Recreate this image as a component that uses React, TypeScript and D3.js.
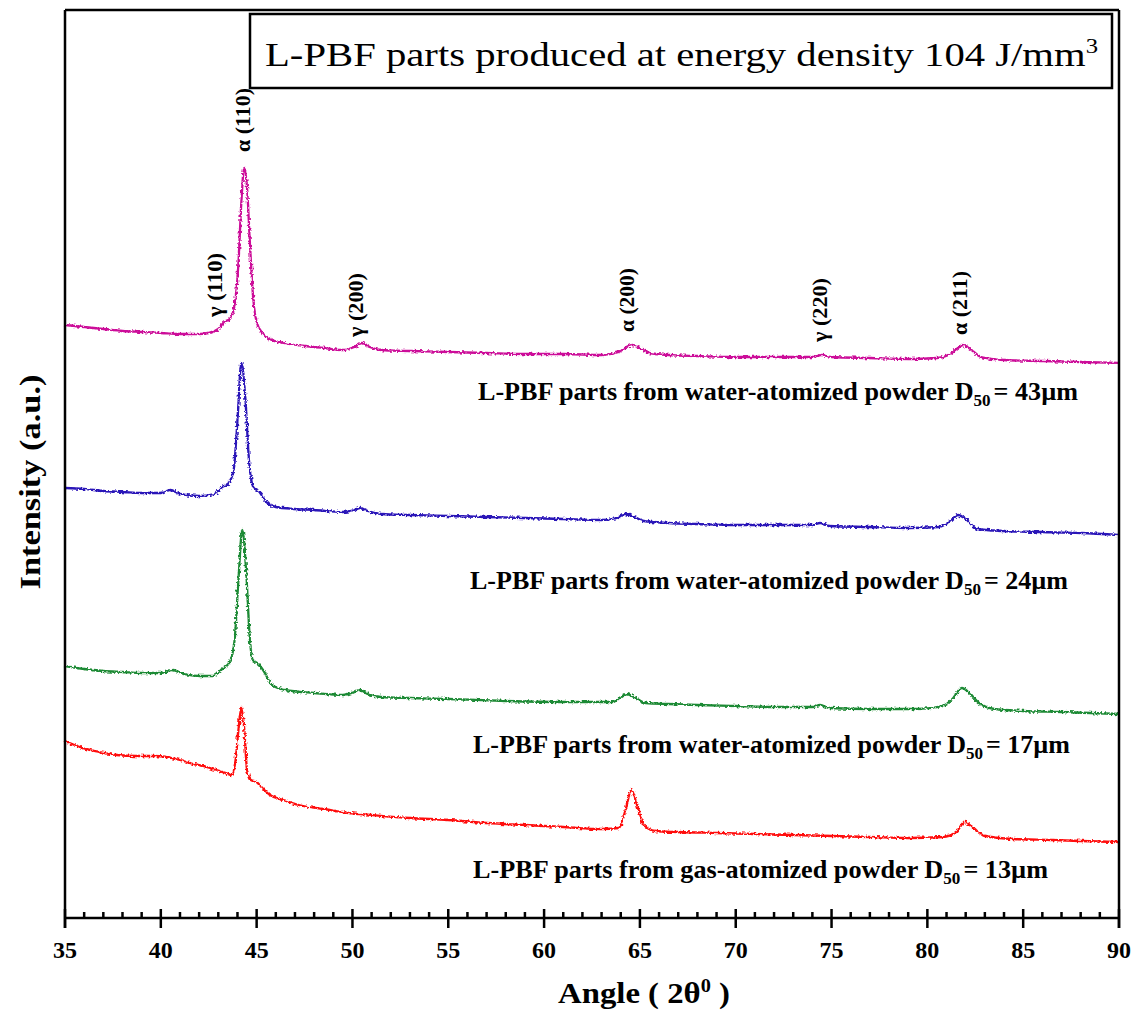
import React from "react";
import * as d3 from "d3";

// 2θ (deg), intensity (a.u.)
const wa43: [number, number][] = [
  [35, 593], [36, 591], [37, 589], [38, 587], [39, 586], [40, 585], [41, 584], [42, 584],
  [42.5, 585], [43.0, 589], [43.3, 596], [43.6, 599], [43.85, 613], [44.05, 655], [44.2, 715],
  [44.35, 750], [44.5, 730], [44.65, 675], [44.8, 625], [45.0, 596], [45.3, 585], [45.8, 578],
  [46.4, 575], [47.5, 572], [48.5, 570], [49.5, 568], [50.1, 571], [50.5, 575], [50.9, 571],
  [51.5, 568], [53, 567], [55, 566], [57, 565], [59, 564], [61, 564], [63, 563], [63.9, 566],
  [64.3, 571], [64.6, 573], [65.0, 570], [65.5, 565], [66.5, 563], [68, 562], [70, 561],
  [72, 561], [74, 561], [74.5, 563], [75, 561], [77, 560], [79, 559], [80.5, 560], [81.2, 564],
  [81.6, 570], [81.85, 573], [82.3, 568], [82.8, 561], [84, 558], [86, 557], [88, 556], [90, 555],
];

const wa24: [number, number][] = [
  [35, 430], [36, 429], [37, 427], [38, 426], [39, 425], [40, 425], [40.5, 428], [41, 424],
  [42, 422], [42.8, 424], [43.2, 431], [43.5, 434], [43.8, 448], [44.0, 498], [44.2, 555],
  [44.4, 523], [44.6, 458], [44.85, 430], [45.1, 427], [45.5, 416], [46, 411], [47, 409],
  [48, 408], [49.5, 406], [50.1, 408], [50.4, 410], [50.8, 407], [51.5, 404], [53, 403],
  [55, 402], [57, 401], [59, 400], [61, 399], [63, 398], [63.8, 400], [64.2, 404], [64.6, 402],
  [65.2, 397], [66.5, 395], [68, 394], [70, 393], [72, 393], [74, 393], [74.4, 395], [74.9, 392],
  [77, 391], [79, 390], [80.6, 391], [81.2, 397], [81.6, 403], [82.0, 399], [82.6, 389],
  [84, 387], [86, 386], [88, 385], [90, 383],
];

const wa17: [number, number][] = [
  [35, 252], [36, 249], [37, 247], [38, 246], [39, 245], [40, 245], [40.6, 248], [41.2, 244],
  [42, 242], [42.7, 242], [43.2, 249], [43.6, 256], [43.85, 278], [44.05, 338], [44.25, 388],
  [44.45, 348], [44.65, 278], [44.8, 258], [45.1, 254], [45.4, 246], [45.8, 233], [46.5, 228],
  [48, 225], [49.5, 223], [50.1, 226], [50.4, 228], [50.8, 224], [51.5, 221], [53, 220],
  [55, 219], [58, 217], [61, 216], [63.6, 216], [64.0, 221], [64.3, 224], [64.7, 221],
  [65.3, 215], [66.5, 214], [68, 213], [70, 212], [72, 211], [74, 211], [74.4, 213], [74.9, 210],
  [77, 209], [79.5, 209], [80.8, 212], [81.3, 219], [81.8, 230], [82.2, 225], [82.7, 215],
  [83.5, 209], [85, 207], [87, 206], [90, 204],
];

const ga13: [number, number][] = [
  [35, 177], [35.9, 170], [36.8, 166], [37.7, 163], [38.7, 162], [39.6, 162], [40.3, 161],
  [41, 158], [41.5, 155], [42.2, 152], [42.9, 148], [43.4, 145], [43.7, 143], [43.9, 158],
  [44.05, 188], [44.2, 210], [44.35, 190], [44.5, 148], [44.7, 138], [45.0, 136], [45.3, 130],
  [45.7, 123], [46.4, 118], [47.2, 113], [48.5, 109], [49.8, 105], [51, 103], [53, 100],
  [55, 98], [57, 95], [59, 93], [61, 91], [63, 89], [63.9, 90], [64.25, 108], [64.55, 128],
  [64.85, 113], [65.2, 93], [65.8, 87], [67, 86], [69, 85], [71, 84], [73, 83], [75, 82],
  [77, 81], [79, 80], [80.8, 81], [81.5, 86], [81.95, 96], [82.4, 90], [83, 82], [84.5, 79],
  [86.5, 78], [88, 77], [90, 76],
];

const seriesData = [wa43, wa24, wa17, ga13];
const seriesColors = ["#cc1199", "#2a14b8", "#1f8a35", "#ff1010"];
const seriesNames = ["water-atomized", "water-atomized", "water-atomized", "gas-atomized"];
const seriesD50 = ["43", "24", "17", "13"];

const peakNames = ["γ (110)", "α (110)", "γ (200)", "α (200)", "γ (220)", "α (211)"];
const peakAngles = [42.9, 44.35, 50.25, 64.4, 74.45, 81.75];

const xMajor = d3.range(35, 91, 5);
const xMinor = d3.range(35, 91, 1).filter((v) => v % 5 !== 0);

export default function App() {
  const width = 1145;
  const height = 1013;
  const left = 65;
  const right = 1119;
  const top = 10;
  const bottom = 918;

  const x = d3.scaleLinear().domain([35, 90]).range([left, right]);
  const y = d3.scaleLinear().domain([0, 908]).range([bottom, top]);

  const line = d3
    .line<[number, number]>()
    .x((d) => x(d[0]))
    .y((d) => y(d[1]))
    .curve(d3.curveMonotoneX);

  const serif = "Liberation Serif";

  // series label layout (left x, baseline y)
  const labelPos = [
    [478, 400],
    [470, 589],
    [473, 753],
    [473, 878],
  ];
  const labelLen = [600, 598, 597, 575];

  // peak label bottoms
  const peakBottoms = [317, 152, 337, 332, 342, 335];

  return (
    <svg
      width={width}
      height={height}
      viewBox={`0 0 ${width} ${height}`}
      style={{ position: "absolute", left: 0, top: 0, background: "#fff", fontFamily: "'Liberation Serif', serif" }}
    >
      <defs>
        <filter id="noise" filterUnits="userSpaceOnUse" x="0" y="0" width={width} height={height}>
          <feTurbulence type="fractalNoise" baseFrequency="0.4" numOctaves="2" seed="5" result="t" />
          <feDisplacementMap in="SourceGraphic" in2="t" scale="4" xChannelSelector="R" yChannelSelector="G" />
        </filter>
      </defs>

      {/* curves */}
      <g filter="url(#noise)">
        {seriesData.map((s, i) => (
          <path key={i} d={line(s) ?? ""} fill="none" stroke={seriesColors[i]} strokeWidth={2.3} />
        ))}
      </g>

      {/* frame */}
      <g stroke="#000" strokeWidth={2.5} fill="none">
        <line x1={left} x2={right} y1={top} y2={top} />
        <line x1={left} x2={left} y1={top} y2={bottom + 10} />
        <line x1={right} x2={right} y1={top} y2={bottom + 10} />
        <line x1={left} x2={right} y1={bottom} y2={bottom} />
        {xMajor.map((v) => (
          <line key={v} x1={x(v)} x2={x(v)} y1={bottom - 9} y2={bottom + 10} />
        ))}
        {xMinor.map((v) => (
          <line key={v} x1={x(v)} x2={x(v)} y1={bottom - 6} y2={bottom} />
        ))}
      </g>

      {/* tick labels */}
      <g fontFamily={serif} fontWeight="bold" fontSize={24} textAnchor="middle">
        {xMajor.map((v) => (
          <text key={v} x={x(v)} y={958}>
            {v}
          </text>
        ))}
      </g>

      {/* axis titles */}
      <text
        x={644}
        y={1003}
        fontFamily={serif}
        fontWeight="bold"
        fontSize={29}
        textAnchor="middle"
        textLength={172}
        lengthAdjust="spacingAndGlyphs"
      >
        Angle ( 2θ
        <tspan fontSize={18} dy={-11}>0</tspan>
        <tspan dy={11}> )</tspan>
      </text>
      <text
        transform="translate(40,482) rotate(-90)"
        fontFamily={serif}
        fontWeight="bold"
        fontSize={30}
        textAnchor="middle"
        textLength={215}
        lengthAdjust="spacingAndGlyphs"
      >
        Intensity (a.u.)
      </text>

      {/* title box */}
      <rect x={250} y={14} width={862} height={74} fill="#fff" stroke="#000" strokeWidth={2.5} />
      <text
        x={265}
        y={66}
        fontFamily={serif}
        fontSize={33}
        textLength={833}
        lengthAdjust="spacingAndGlyphs"
      >
        L-PBF parts produced at energy density 104 J/mm
        <tspan fontSize={20} dy={-13}>3</tspan>
      </text>

      {/* peak labels */}
      <g fontFamily={serif} fontWeight="bold" fontSize={20}>
        {peakNames.map((p, i) => (
          <text
            key={p}
            transform={`translate(${x(peakAngles[i]) + 6},${peakBottoms[i]}) rotate(-90)`}
            textLength={64}
            lengthAdjust="spacingAndGlyphs"
          >
            {p}
          </text>
        ))}
      </g>

      {/* series labels */}
      <g fontFamily={serif} fontWeight="bold" fontSize={26}>
        {seriesD50.map((d, i) => (
          <text
            key={i}
            x={labelPos[i][0]}
            y={labelPos[i][1]}
            textLength={labelLen[i]}
            lengthAdjust="spacingAndGlyphs"
          >
            {`L-PBF parts from ${seriesNames[i]} ${i < 3 ? " " : ""}powder D`}
            <tspan fontSize={17} dy={6}>50</tspan>
            <tspan dx={3} dy={-6}>{`= ${d}µm`}</tspan>
          </text>
        ))}
      </g>
    </svg>
  );
}
